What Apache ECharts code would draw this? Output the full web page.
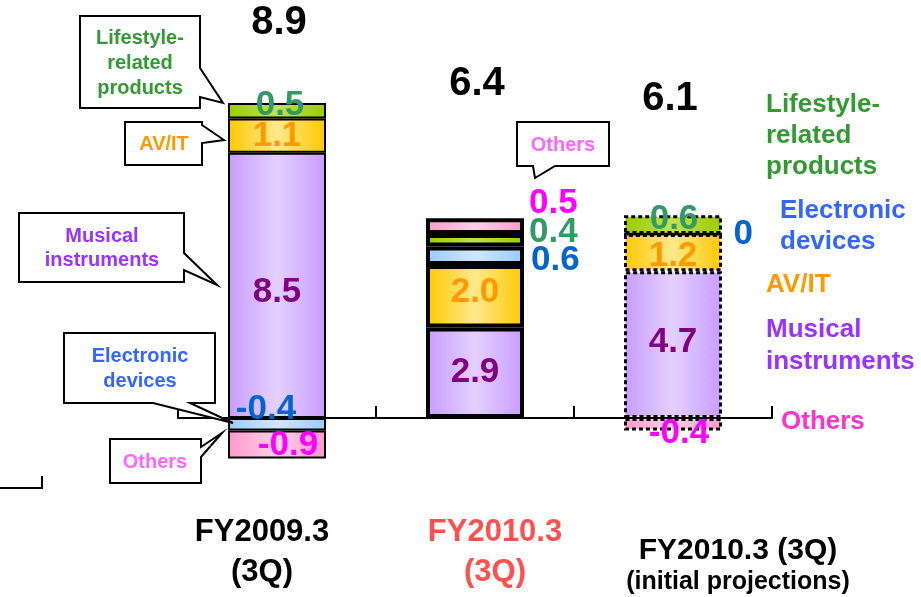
<!DOCTYPE html>
<html>
<head>
<meta charset="utf-8">
<script src="https://cdn.jsdelivr.net/npm/echarts@6/dist/echarts.min.js"></script>
<style>
  html, body { margin: 0; padding: 0; background: #fff; }
  #chart { width: 921px; height: 597px; }
</style>
</head>
<body>
<div id="chart"></div>
<script>
// Operating income by segment (billions of yen)
const categories = ['FY2009.3\n(3Q)', 'FY2010.3\n(3Q)', 'FY2010.3 (3Q)\n(initial projections)'];
const musical = [8.5, 2.9, 4.7];
const avit = [1.1, 2.0, 1.2];
const electronic = [-0.4, 0.6, 0];
const lifestyle = [0.5, 0.4, 0.6];
const others = [-0.9, 0.5, -0.4];
const totals = [8.9, 6.4, 6.1];

const FONT = '"Liberation Sans", Arial, sans-serif';

// Outline style of each column: actual, actual (thick), projection (dashed)
const columnBorders = [
  { borderColor: '#000', borderWidth: 2, borderType: 'solid' },
  { borderColor: '#000', borderWidth: 4, borderType: 'solid' },
  { borderColor: '#000', borderWidth: 3, borderType: [4, 3] }
];

function hGradient(edge, mid) {
  return {
    type: 'linear', x: 0, y: 0, x2: 1, y2: 0,
    colorStops: [
      { offset: 0, color: edge },
      { offset: 0.5, color: mid },
      { offset: 1, color: edge }
    ]
  };
}

function fmt(v) { return v === 0 ? '0' : v.toFixed(1); }

function segment(name, values, edge, mid, labelColor, labelPlacement) {
  return {
    name: name,
    type: 'bar',
    stack: 'total',
    barWidth: 98,
    animation: false,
    itemStyle: { color: hGradient(edge, mid) },
    label: {
      show: true,
      color: labelColor,
      fontSize: 35,
      fontWeight: 'bold',
      fontFamily: FONT,
      textBorderWidth: 0,
      textBorderColor: 'transparent',
      formatter: p => fmt(p.value)
    },
    data: values.map((v, i) => ({
      value: v,
      itemStyle: columnBorders[i],
      label: labelPlacement[i]
    }))
  };
}

const series = [
  segment('Musical instruments', musical, '#C79CFF', '#E4D0FF', '#800080', [
    { position: 'inside', offset: [0, 7] },
    { position: 'inside', offset: [0, 0] },
    { position: 'inside', offset: [0, -2] }
  ]),
  segment('AV/IT', avit, '#FFC800', '#FFE98A', '#FF9900', [
    { position: 'inside', offset: [0, 1] },
    { position: 'inside', offset: [0, -4] },
    { position: 'inside', offset: [0, 4] }
  ]),
  segment('Electronic devices', electronic, '#99CCFF', '#CFE7FF', '#0066CC', [
    { position: 'inside', offset: [-11, -15] },
    { position: 'right', offset: [2, 5] },
    { position: 'right', distance: 10 }
  ]),
  segment('Lifestyle-related products', lifestyle, '#99CC00', '#C2E24A', '#339966', [
    { position: 'inside', offset: [3, -5] },
    { position: 'right', offset: [0, -8] },
    { position: 'inside', offset: [1, -5] }
  ]),
  segment('Others', others, '#FF99CC', '#FFD0E8', '#FF00FF', [
    { position: 'inside', offset: [11, 1] },
    { position: 'right', offset: [0, -23] },
    { position: 'inside', offset: [6, 9] }
  ]),
  {
    name: 'Total',
    type: 'scatter',
    animation: false,
    silent: true,
    symbolSize: 1,
    itemStyle: { color: 'rgba(255,255,255,0)', opacity: 1 },
    label: {
      show: true,
      position: 'inside',
      color: '#000',
      opacity: 1,
      fontSize: 40,
      fontWeight: 'bold',
      fontFamily: FONT,
      formatter: p => fmt(p.value)
    },
    data: totals.map((v, i) => ({
      value: v,
      label: { offset: [[2, -117], [2, -134], [-3, -129]][i] }
    }))
  }
];

// Speech-bubble callouts naming the segments of the first two columns
function bubble(points, text, cx, cy, color, lineHeight) {
  return [
    {
      type: 'polygon',
      shape: { points: points },
      style: { fill: '#fff', stroke: '#000', lineWidth: 2 },
      z: 10
    },
    {
      type: 'text',
      style: {
        text: text, x: cx, y: cy,
        fill: color,
        font: 'bold 20px ' + FONT,
        textAlign: 'center', align: 'center',
        textVerticalAlign: 'middle', verticalAlign: 'middle',
        lineHeight: lineHeight || 25
      },
      z: 11
    }
  ];
}

function plainText(text, x, y, color, size, align, lineHeight) {
  return {
    type: 'text',
    style: {
      text: text, x: x, y: y,
      fill: color,
      font: 'bold ' + size + 'px ' + FONT,
      textAlign: align, align: align,
      textVerticalAlign: 'middle', verticalAlign: 'middle',
      lineHeight: lineHeight || size
    },
    z: 11
  };
}

const graphics = [].concat(
  bubble([[80, 16], [200, 16], [200, 68], [223, 103], [200, 97], [200, 108], [80, 108]],
    'Lifestyle-\nrelated\nproducts', 140, 63, '#339933', 25),
  bubble([[125, 122], [202, 122], [202, 125], [224, 140], [202, 143], [202, 165], [125, 165]],
    'AV/IT', 164, 144, '#FF9900'),
  bubble([[19, 213], [184, 213], [184, 253], [217, 285], [184, 270], [184, 282], [19, 282]],
    'Musical\ninstruments', 102, 248, '#9933FF', 24),
  bubble([[64, 333], [215, 333], [215, 403], [190, 403], [233, 423], [153, 403], [64, 403]],
    'Electronic\ndevices', 140, 369, '#3366FF', 25),
  bubble([[110, 439], [201, 439], [201, 447], [222, 433], [201, 457], [201, 483], [110, 483]],
    'Others', 155, 462, '#FF66FF'),
  bubble([[517, 122], [609, 122], [609, 166], [555, 166], [535, 178], [533, 166], [517, 166]],
    'Others', 563, 145, '#FF66FF'),
  [
    // Segment names beside the projection column
    plainText('Lifestyle-\nrelated\nproducts', 766, 136, '#339933', 26, 'left', 31),
    plainText('Electronic\ndevices', 780, 226, '#3366FF', 26, 'left', 31),
    plainText('AV/IT', 766, 285, '#FF9900', 26, 'left'),
    plainText('Musical\ninstruments', 766, 346, '#9933FF', 26, 'left', 32),
    plainText('Others', 781, 422, '#FF33CC', 26, 'left'),
    // Column captions
    plainText(categories[0], 262, 552, '#000', 31, 'center', 40),
    plainText(categories[1], 495, 552, '#FF5050', 31, 'center', 40),
    plainText(categories[2].split('\n')[0], 738, 551, '#000', 30, 'center'),
    plainText(categories[2].split('\n')[1], 738, 582, '#000', 25, 'center'),
    {
      type: 'polyline',
      shape: { points: [[0, 488], [42, 488], [42, 476]] },
      style: { stroke: '#000', lineWidth: 2, fill: null }
    }
  ]
);

const chart = echarts.init(document.getElementById('chart'), null, { renderer: 'canvas' });
chart.setOption({
  animation: false,
  backgroundColor: '#fff',
  grid: { left: 178, right: 149, top: 74.8, bottom: 116.6 },
  xAxis: {
    type: 'category',
    data: categories,
    axisLine: { show: true, onZero: true, lineStyle: { color: '#000', width: 2 } },
    axisTick: { show: true, inside: true, length: 12, alignWithLabel: false, lineStyle: { color: '#000', width: 2 } },
    axisLabel: { show: false },
    splitLine: { show: false }
  },
  yAxis: {
    type: 'value',
    min: -2,
    max: 11,
    show: false,
    splitLine: { show: false }
  },
  series: series,
  graphic: graphics
});
</script>
</body>
</html>
